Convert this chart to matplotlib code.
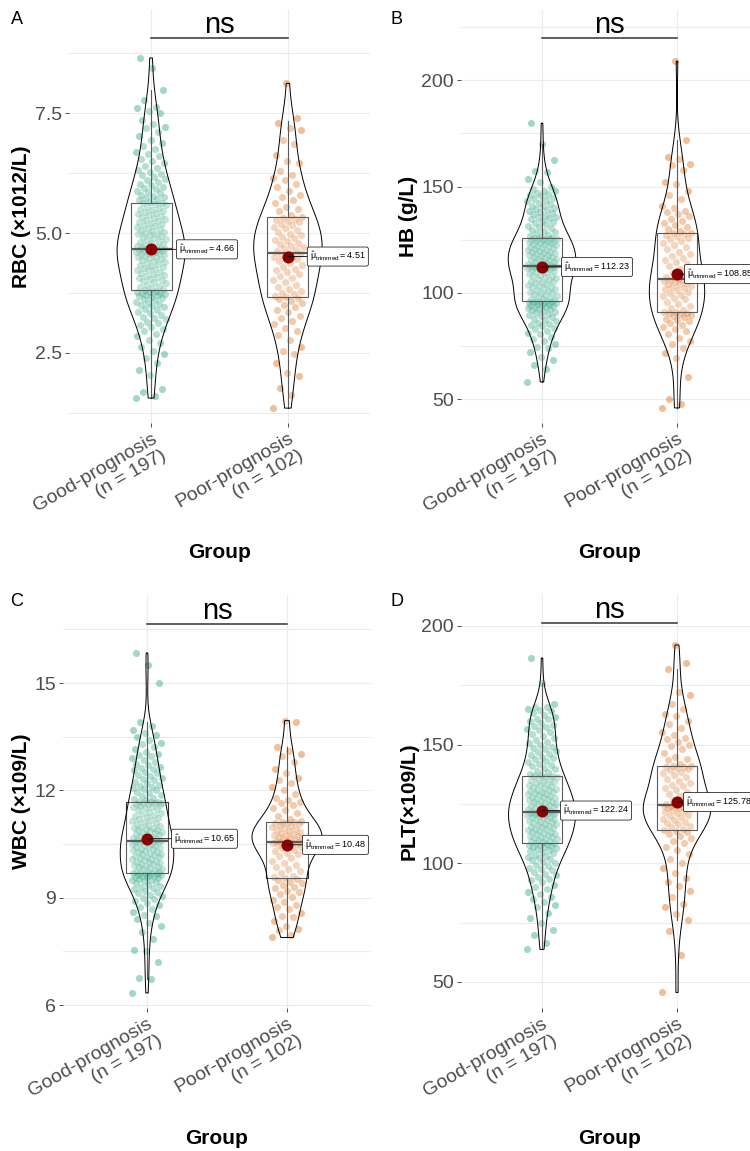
import numpy as np
import matplotlib
matplotlib.use("Agg")
import matplotlib.pyplot as plt
from matplotlib.patches import Polygon

plt.rcParams['font.family'] = ['Liberation Sans', 'DejaVu Sans']
plt.rcParams['mathtext.fontset'] = 'custom'
plt.rcParams['mathtext.rm'] = 'Liberation Sans'
plt.rcParams['mathtext.it'] = 'Liberation Sans:italic'
plt.rcParams['mathtext.bf'] = 'Liberation Sans:bold'

# ---------------- data ----------------
groups = ['Good-prognosis\n(n = 197)', 'Poor-prognosis\n(n = 102)']

rbc_good = [1.56, 1.60, 1.68, 1.75, 2.05, 2.15, 2.30, 2.40, 2.48, 2.55,
            2.62, 2.70, 2.78, 2.85, 2.90, 2.95, 3.00, 3.05, 3.08, 3.12,
            3.15, 3.20, 3.22, 3.26, 3.30, 3.33, 3.36, 3.40, 3.42, 3.45,
            3.48, 3.50, 3.52, 3.55, 3.57, 3.60, 3.62, 3.64, 3.66, 3.68,
            3.70, 3.71, 3.72, 3.74, 3.75, 3.76, 3.77, 3.78, 3.80, 3.81,
            3.83, 3.85, 3.88, 3.90, 3.92, 3.95, 3.97, 3.99, 4.02, 4.04,
            4.06, 4.08, 4.11, 4.13, 4.15, 4.17, 4.19, 4.22, 4.24, 4.26,
            4.28, 4.30, 4.32, 4.34, 4.36, 4.38, 4.40, 4.42, 4.44, 4.46,
            4.48, 4.50, 4.51, 4.53, 4.54, 4.56, 4.57, 4.58, 4.59, 4.60,
            4.61, 4.62, 4.63, 4.64, 4.65, 4.65, 4.66, 4.66, 4.67,
            4.68, 4.69, 4.70, 4.72, 4.73, 4.75, 4.77, 4.79, 4.81, 4.83,
            4.85, 4.87, 4.89, 4.91, 4.93, 4.95, 4.97, 4.99, 5.01, 5.03,
            5.05, 5.07, 5.09, 5.11, 5.13, 5.15, 5.17, 5.19, 5.21, 5.23,
            5.25, 5.27, 5.29, 5.31, 5.33, 5.35, 5.37, 5.39, 5.41, 5.43,
            5.45, 5.48, 5.50, 5.53, 5.55, 5.58, 5.60, 5.62, 5.63,
            5.65, 5.68, 5.70, 5.73, 5.75, 5.78, 5.80, 5.83, 5.86, 5.88,
            5.91, 5.94, 5.97, 6.00, 6.03, 6.06, 6.10, 6.13, 6.17, 6.20,
            6.24, 6.28, 6.32, 6.36, 6.40, 6.45, 6.50, 6.55, 6.60, 6.65,
            6.70, 6.76, 6.82, 6.88, 6.95, 7.02, 7.10, 7.18, 7.22, 7.28,
            7.35, 7.50, 7.55, 7.60, 7.62, 7.78, 7.98, 8.45, 8.65]
rbc_poor = [1.35, 1.62, 1.78, 2.02, 2.08, 2.30, 2.48, 2.55, 2.62, 2.78,
            2.88, 2.96, 3.02, 3.10, 3.16, 3.22, 3.28, 3.35, 3.40, 3.45,
            3.50, 3.55, 3.58, 3.62, 3.65, 3.66, 3.68,
            3.72, 3.76, 3.80, 3.84, 3.88, 3.92, 3.97, 4.02, 4.06, 4.10,
            4.14, 4.18, 4.22, 4.26, 4.30, 4.34, 4.38, 4.42, 4.45, 4.48,
            4.51, 4.53, 4.55, 4.57, 4.59,
            4.62, 4.65, 4.68, 4.71, 4.74, 4.77, 4.80, 4.83, 4.86, 4.89,
            4.92, 4.95, 4.98, 5.02, 5.06, 5.10, 5.13, 5.16, 5.19, 5.22,
            5.25, 5.28, 5.30, 5.32, 5.34,
            5.38, 5.45, 5.50, 5.55, 5.62, 5.68, 5.75, 5.80, 5.88, 5.95,
            6.02, 6.10, 6.15, 6.20, 6.30, 6.45, 6.50, 6.62, 6.85, 6.95,
            7.15, 7.20, 7.30, 7.40, 8.12]
rbc_box = [(1.56, 3.81, 4.67, 5.63, 7.98), (1.35, 3.67, 4.58, 5.33, 7.33)]
rbc_means = [4.66, 4.51]

hb_good = [58.2, 64.5, 66.0, 68.5, 70.0, 72.5, 74.0, 74.8, 76.0, 77.5,
           78.5, 79.5, 80.5, 81.0, 82.0, 83.0, 83.5, 84.5, 85.0, 85.5,
           86.0, 87.0, 87.5, 88.0, 88.5, 89.0, 89.5, 90.0, 90.5, 91.0,
           91.5, 92.0, 92.3, 92.6, 93.0, 93.3, 93.6, 94.0, 94.2, 94.5,
           94.7, 95.0, 95.2, 95.4, 95.6, 95.8, 95.9, 96.0, 96.1, 96.2,
           96.5, 97.0, 97.4, 97.8, 98.2, 98.6, 99.0, 99.4, 99.8, 100.2,
           100.6, 101.0, 101.4, 101.8, 102.2, 102.6, 103.0, 103.4, 103.8, 104.2,
           104.6, 105.0, 105.4, 105.8, 106.2, 106.6, 107.0, 107.4, 107.8, 108.2,
           108.6, 109.0, 109.4, 109.8, 110.2, 110.5, 110.8, 111.1, 111.4, 111.6,
           111.8, 112.0, 112.1, 112.2, 112.3, 112.4, 112.5, 112.6, 112.7,
           112.9, 113.2, 113.5, 113.8, 114.1, 114.4, 114.7, 115.0, 115.3, 115.6,
           115.9, 116.2, 116.5, 116.8, 117.1, 117.4, 117.7, 118.0, 118.3, 118.6,
           118.9, 119.2, 119.5, 119.8, 120.1, 120.4, 120.7, 121.0, 121.3, 121.6,
           121.9, 122.2, 122.5, 122.8, 123.1, 123.4, 123.7, 124.0, 124.2, 124.4,
           124.6, 124.8, 125.0, 125.2, 125.4, 125.5, 125.6, 125.7, 125.8,
           126.2, 126.8, 127.4, 128.0, 128.6, 129.2, 129.8, 130.4, 131.0, 131.6,
           132.2, 132.8, 133.4, 134.0, 134.6, 135.2, 135.5, 135.8, 136.4, 137.0,
           137.6, 138.2, 138.5, 138.8, 139.4, 140.0, 140.8, 141.0, 141.6, 142.4,
           143.2, 143.8, 144.0, 144.8, 145.6, 146.0, 146.4, 147.2, 147.8, 148.0,
           149.0, 150.0, 152.0, 153.5, 157.0, 157.5, 162.5, 170.0, 179.8]
hb_poor = [46.0, 47.8, 50.2, 60.5, 69.4, 72.0, 74.0, 76.0, 77.5, 79.0,
           80.5, 82.0, 83.0, 84.0, 85.0, 86.0, 86.8, 87.5, 88.0, 88.5,
           89.0, 89.5, 90.0, 90.4, 90.8, 91.0, 91.3,
           92.0, 93.0, 94.0, 95.0, 96.0, 97.0, 97.8, 98.5, 99.2, 100.0,
           100.6, 101.2, 101.8, 102.4, 103.0, 103.5, 104.0, 104.4, 104.8, 105.2,
           105.6, 106.0, 106.2, 106.4, 106.8,
           107.5, 108.5, 109.5, 110.5, 111.5, 112.5, 113.5, 114.5, 115.5, 116.5,
           117.5, 118.5, 119.5, 120.5, 121.5, 122.5, 123.5, 124.5, 125.3, 126.0,
           126.6, 127.2, 127.6, 128.0, 128.4,
           129.0, 130.0, 131.0, 132.0, 133.0, 134.0, 135.0, 136.0, 137.0, 138.0,
           138.5, 140.0, 141.0, 144.0, 146.0, 148.0, 151.0, 152.0, 158.0, 160.0,
           160.5, 163.0, 164.0, 172.0, 208.9]
hb_box = [(58.2, 96.2, 112.7, 125.8, 170.0), (46.0, 91.1, 106.6, 128.2, 172.0)]
hb_means = [112.23, 108.85]

wbc_good = [6.34, 6.72, 6.75, 7.20, 7.50, 7.53, 7.84, 8.05, 8.22, 8.30,
            8.40, 8.48, 8.52, 8.60, 8.68, 8.75, 8.80, 8.86, 8.92, 8.96,
            9.00, 9.04, 9.08, 9.12, 9.16, 9.20, 9.24, 9.28, 9.31, 9.34,
            9.37, 9.40, 9.43, 9.46, 9.49, 9.51, 9.53, 9.55, 9.57, 9.59,
            9.61, 9.62, 9.63, 9.64, 9.65, 9.66, 9.67, 9.68, 9.69, 9.70,
            9.71, 9.73, 9.75, 9.77, 9.79, 9.81, 9.83, 9.85, 9.87, 9.89,
            9.91, 9.93, 9.95, 9.97, 9.99, 10.01, 10.03, 10.05, 10.07, 10.09,
            10.11, 10.13, 10.15, 10.17, 10.19, 10.21, 10.23, 10.25, 10.27, 10.29,
            10.31, 10.33, 10.35, 10.37, 10.39, 10.41, 10.43, 10.45, 10.47, 10.49,
            10.51, 10.53, 10.55, 10.56, 10.57, 10.58, 10.59, 10.59, 10.60,
            10.62, 10.64, 10.66, 10.68, 10.70, 10.72, 10.74, 10.76, 10.78, 10.80,
            10.82, 10.84, 10.86, 10.88, 10.90, 10.92, 10.94, 10.96, 10.98, 11.00,
            11.02, 11.05, 11.08, 11.11, 11.14, 11.17, 11.20, 11.23, 11.26, 11.29,
            11.32, 11.35, 11.38, 11.41, 11.44, 11.47, 11.50, 11.53, 11.55, 11.57,
            11.59, 11.61, 11.63, 11.64, 11.65, 11.66, 11.67, 11.68, 11.69,
            11.72, 11.76, 11.80, 11.84, 11.88, 11.92, 11.96, 12.00, 12.04, 12.08,
            12.10, 12.12, 12.16, 12.20, 12.24, 12.28, 12.32, 12.36, 12.40, 12.44,
            12.48, 12.52, 12.56, 12.60, 12.62, 12.65, 12.70, 12.75, 12.80, 12.85,
            12.90, 12.95, 13.00, 13.02, 13.08, 13.15, 13.22, 13.30, 13.32, 13.40,
            13.48, 13.55, 13.60, 13.70, 13.80, 13.90, 15.00, 15.50, 15.84]
wbc_poor = [7.89, 7.95, 8.10, 8.14, 8.20, 8.35, 8.45, 8.50, 8.58, 8.70,
            8.73, 8.80, 8.88, 8.95, 9.02, 9.10, 9.15, 9.20, 9.26, 9.30,
            9.35, 9.40, 9.45, 9.50, 9.53, 9.55, 9.57,
            9.62, 9.68, 9.74, 9.80, 9.86, 9.92, 9.98, 10.04, 10.10, 10.16,
            10.21, 10.26, 10.30, 10.34, 10.38, 10.41, 10.44, 10.47, 10.49, 10.51,
            10.53, 10.54, 10.55, 10.56, 10.58,
            10.60, 10.62, 10.64, 10.66, 10.68, 10.70, 10.72, 10.74, 10.76, 10.78,
            10.80, 10.83, 10.86, 10.89, 10.92, 10.95, 10.98, 11.01, 11.04, 11.07,
            11.09, 11.10, 11.11, 11.12, 11.14,
            11.20, 11.28, 11.36, 11.44, 11.52, 11.60, 11.64, 11.68, 11.72, 11.80,
            11.90, 12.00, 12.10, 12.20, 12.30, 12.36, 12.50, 12.60, 12.80, 12.95,
            13.03, 13.10, 13.20, 13.90, 13.95]
wbc_box = [(6.72, 9.70, 10.60, 11.69, 13.90), (7.89, 9.56, 10.57, 11.13, 13.20)]
wbc_means = [10.65, 10.48]

plt_good = [63.7, 66.5, 69.6, 72.0, 74.7, 77.0, 79.0, 81.5, 82.5, 83.5,
            85.0, 86.0, 87.0, 88.0, 89.0, 90.0, 91.0, 92.0, 92.8, 93.5,
            94.2, 95.0, 95.7, 96.4, 97.0, 97.6, 98.2, 98.8, 99.4, 100.0,
            100.6, 101.2, 101.7, 102.2, 102.7, 103.2, 103.7, 104.2, 104.7, 105.1,
            105.5, 105.9, 106.3, 106.7, 107.0, 107.3, 107.6, 107.9, 108.2, 108.4,
            108.6, 108.9, 109.2, 109.5, 109.8, 110.1, 110.4, 110.7, 111.0, 111.3,
            111.6, 111.9, 112.2, 112.5, 112.8, 113.1, 113.4, 113.7, 114.0, 114.3,
            114.6, 114.9, 115.2, 115.5, 115.8, 116.1, 116.4, 116.7, 117.0, 117.3,
            117.6, 117.9, 118.2, 118.5, 118.8, 119.1, 119.4, 119.7, 120.0, 120.3,
            120.5, 120.7, 120.9, 121.0, 121.1, 121.2, 121.3, 121.4, 121.5,
            121.8, 122.1, 122.4, 122.7, 123.0, 123.3, 123.6, 123.9, 124.2, 124.5,
            124.8, 125.1, 125.4, 125.7, 126.0, 126.3, 126.6, 126.9, 127.2, 127.5,
            127.8, 128.1, 128.4, 128.7, 129.0, 129.3, 129.6, 129.9, 130.2, 130.5,
            130.8, 131.1, 131.4, 131.7, 132.0, 132.4, 132.8, 133.2, 133.6, 134.0,
            134.4, 134.8, 135.2, 135.6, 135.9, 136.2, 136.4, 136.6, 136.7,
            137.2, 137.8, 138.4, 139.0, 139.6, 140.2, 140.8, 141.4, 142.0, 142.6,
            143.2, 143.8, 144.4, 145.0, 145.6, 146.2, 146.8, 147.4, 148.0, 148.6,
            149.2, 149.8, 150.5, 151.2, 152.0, 152.8, 153.6, 154.4, 155.2, 156.0,
            156.8, 157.6, 158.0, 158.4, 159.2, 160.0, 160.8, 161.0, 161.6, 162.4,
            163.2, 164.0, 164.5, 165.0, 165.7, 166.0, 167.0, 176.0, 186.5]
plt_poor = [45.6, 61.2, 71.3, 76.0, 78.5, 81.5, 83.0, 86.0, 88.5, 90.5,
            92.0, 94.0, 96.0, 98.0, 100.0, 102.0, 104.0, 105.5, 107.0, 108.5,
            109.5, 110.5, 111.5, 112.5, 113.3, 113.7, 114.1,
            114.6, 115.2, 115.8, 116.4, 117.0, 117.6, 118.2, 118.8, 119.4, 120.0,
            120.5, 121.0, 121.5, 122.0, 122.4, 122.8, 123.2, 123.5, 123.8, 124.0,
            124.1, 124.2, 124.3, 124.4, 124.6,
            125.2, 126.0, 126.8, 127.6, 128.4, 129.2, 130.0, 130.8, 131.6, 132.4,
            133.2, 134.0, 134.8, 135.6, 136.4, 137.2, 138.0, 138.6, 139.2, 139.7,
            140.1, 140.4, 140.7, 140.9, 141.1,
            142.0, 143.5, 144.0, 145.0, 146.5, 148.0, 149.5, 150.0, 151.0, 152.5,
            153.0, 154.0, 155.5, 157.0, 158.5, 160.0, 162.0, 163.0, 165.0, 167.0,
            170.8, 172.0, 181.8, 184.3, 192.0]
plt_box = [(63.7, 108.4, 121.5, 136.7, 176.0), (76.0, 113.9, 124.5, 141.0, 181.8)]
plt_means = [122.24, 125.78]

# ---------------- layout (pixels of a 750 x 1151 canvas) ----------------
W, H = 750, 1151
colors = ['#1B9E77', '#D95F02']

panels = [
    dict(tag='A', tag_xy=(11, 24), ylabel='RBC (×1012/L)', ylabel_x=22,
         data=(rbc_good, rbc_poor), box=rbc_box, means=rbc_means,
         rect=(69, 370, 10, 423), ylim=(1.04, 9.65),
         yticks=[2.5, 5.0, 7.5], yticklabels=['2.5', '5.0', '7.5'],
         minor=[1.25, 3.75, 6.25, 8.75], bracket=9.06, lab_off=(25, 19),
         group_y=553),
    dict(tag='B', tag_xy=(391, 24), ylabel='HB (g/L)', ylabel_x=409,
         data=(hb_good, hb_poor), box=hb_box, means=hb_means,
         rect=(461, 758, 10, 423), ylim=(38.9, 233.0),
         yticks=[50, 100, 150, 200], yticklabels=['50', '100', '150', '200'],
         minor=[75, 125, 175, 225], bracket=219.9, lab_off=(19, 7),
         group_y=553),
    dict(tag='C', tag_xy=(10, 606), ylabel='WBC (×109/L)', ylabel_x=22,
         data=(wbc_good, wbc_poor), box=wbc_box, means=wbc_means,
         rect=(63, 371, 595, 1008), ylim=(5.92, 17.46),
         yticks=[6, 9, 12, 15], yticklabels=['6', '9', '12', '15'],
         minor=[7.5, 10.5, 13.5, 16.5], bracket=16.65, lab_off=(24, 15),
         group_y=1138),
    dict(tag='D', tag_xy=(391, 606), ylabel='PLT(×109/L)', ylabel_x=409,
         data=(plt_good, plt_poor), box=plt_box, means=plt_means,
         rect=(461, 758, 595, 1008), ylim=(39.04, 213.06),
         yticks=[50, 100, 150, 200], yticklabels=['50', '100', '150', '200'],
         minor=[75, 125, 175], bracket=201.3, lab_off=(18, 6),
         group_y=1138),
]


def kde(vals):
    """Gaussian KDE with R's bw.nrd0, trimmed to the data range (like geom_violin)."""
    v = np.asarray(vals, dtype=float)
    n = len(v)
    q75, q25 = np.percentile(v, [75, 25])
    bw = 0.9 * min(v.std(ddof=1), (q75 - q25) / 1.34) * n ** -0.2
    grid = np.linspace(v.min(), v.max(), 512)
    dens = np.exp(-0.5 * ((grid[:, None] - v[None, :]) / bw) ** 2).sum(axis=1)
    return grid, dens / (n * bw * np.sqrt(2 * np.pi))


def jitter(n, half_width=0.11):
    # deterministic low-discrepancy horizontal spread
    k = np.arange(n)
    return ((k * 0.6180339887) % 1.0 - 0.5) * 2 * half_width


fig = plt.figure(figsize=(W / 100, H / 100), dpi=100)

for p in panels:
    x0, x1, y0, y1 = p['rect']
    ax = fig.add_axes([x0 / W, 1 - y1 / H, (x1 - x0) / W, (y1 - y0) / H])
    ax.set_xlim(0.4, 2.6)
    ax.set_ylim(*p['ylim'])
    for s in ax.spines.values():
        s.set_visible(False)

    ax.set_yticks(p['yticks'])
    ax.set_yticklabels(p['yticklabels'])
    ax.set_yticks(p['minor'], minor=True)
    ax.set_xticks([1, 2])
    ax.set_xticklabels(groups, rotation=30, ha='right', rotation_mode='anchor')
    ax.tick_params(which='major', length=3, width=0.6, color='#333333',
                   labelsize=14, labelcolor='#4D4D4D', pad=2)
    ax.tick_params(which='minor', length=0)
    ax.grid(which='both', axis='y', color='#EBEBEB', lw=0.8)
    ax.grid(which='major', axis='x', color='#EBEBEB', lw=0.8)
    ax.set_axisbelow(True)

    # jittered points
    for i, vals in enumerate(p['data']):
        vals = np.asarray(vals)
        ax.scatter(i + 1 + jitter(len(vals)), vals, s=26, color=colors[i],
                   alpha=0.4, lw=0, zorder=2)

    # boxplots
    stats = [dict(whislo=b[0], q1=b[1], med=b[2], q3=b[3], whishi=b[4], fliers=[])
             for b in p['box']]
    ax.bxp(stats, positions=[1, 2], widths=0.3, showcaps=False, showfliers=False,
           patch_artist=True, manage_ticks=False, zorder=3,
           boxprops=dict(facecolor=(1, 1, 1, 0.2), edgecolor='#333333', lw=0.8),
           medianprops=dict(color='#333333', lw=1.6),
           whiskerprops=dict(color='#333333', lw=0.8))

    # violins (scale = "area")
    curves = [kde(v) for v in p['data']]
    dmax = max(d.max() for _, d in curves)
    for i, (g, d) in enumerate(curves):
        hw = 0.25 * d / dmax
        xs = np.concatenate([i + 1 + hw, (i + 1 - hw)[::-1]])
        ys = np.concatenate([g, g[::-1]])
        ax.add_patch(Polygon(np.column_stack([xs, ys]), closed=True,
                             facecolor=(1, 1, 1, 0.2), edgecolor='black',
                             lw=0.7, zorder=4))

    # trimmed means with labels
    for i, m in enumerate(p['means']):
        ax.scatter([i + 1], [m], s=75, color='#8B0000', lw=0, zorder=6)
        label = r'$\hat{\mathrm{\mu}}_{\mathrm{trimmed}}=' + f'{m:.2f}' + '$'
        ax.annotate(label, xy=(i + 1, m), xytext=(p['lab_off'][i] * 0.72 + 2.2, 0),
                    textcoords='offset points', ha='left', va='center', fontsize=6.5,
                    bbox=dict(boxstyle='round,pad=0.3,rounding_size=0.2', fc='white',
                              ec='black', lw=0.5),
                    arrowprops=dict(arrowstyle='-', color='black', lw=0.6,
                                    shrinkA=0, shrinkB=0),
                    zorder=7)

    # significance bracket
    yb = p['bracket']
    ax.plot([1, 2], [yb, yb], color='#333333', lw=1.1, clip_on=False, zorder=5)
    ax.annotate('ns', xy=(1.5, yb), xytext=(0, 3.5), textcoords='offset points',
                ha='center', va='baseline', fontsize=21, color='black')

    # outer texts
    fig.text(p['tag_xy'][0] / W, 1 - p['tag_xy'][1] / H, p['tag'], fontsize=13,
             ha='left', va='baseline')
    fig.text(p['ylabel_x'] / W, 1 - (y0 + y1) / 2 / H, p['ylabel'], rotation=90,
             fontsize=15, fontweight='bold', ha='center', va='center')
    fig.text((x0 + x1) / 2 / W, 1 - p['group_y'] / H, 'Group', fontsize=15,
             fontweight='bold', ha='center', va='center')

fig.savefig('out.png', dpi=100, facecolor='white')
